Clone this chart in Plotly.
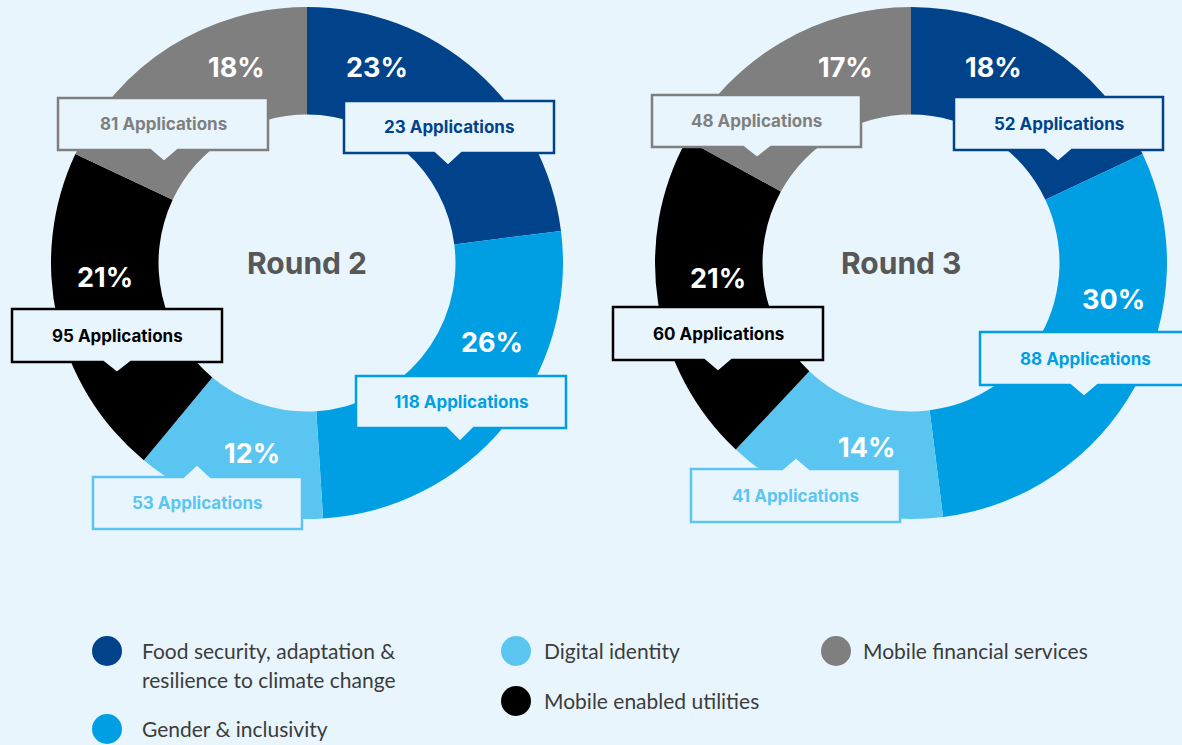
import plotly.graph_objects as go

W, H = 1182, 745
BG = "#E8F5FD"

# ---- data -------------------------------------------------------------
categories = [
    "Food security, adaptation & resilience to climate change",
    "Gender & inclusivity",
    "Digital identity",
    "Mobile enabled utilities",
    "Mobile financial services",
]
colors = ["#00438A", "#009FE3", "#5BC5F2", "#000000", "#7F7F7F"]

round2_share = [23, 26, 12, 21, 18]
round2_apps = [23, 118, 53, 95, 81]

round3_share = [18, 30, 14, 21, 17]
round3_apps = [52, 88, 41, 60, 48]

# ---- layout helpers (pixel positions on the page) ---------------------
FONT_BOLD = "Inter"
FONT_TEXT = "Lato"


def px(x):
    return x / W


def py(y):
    return 1 - y / H


def donut_domain(cx, cy, r):
    return dict(x=[px(cx - r), px(cx + r)], y=[py(cy + r), py(cy - r)])


# per slice: percent label position, callout box (left, top, right, bottom),
# pointer tip (x, y)
round2_layout = [
    dict(pct=(377, 67), box=(344, 101, 554, 153), tip=(448, 166)),
    dict(pct=(492, 343), box=(356, 376, 566, 428), tip=(460, 442)),
    dict(pct=(252, 453), box=(93, 477, 302, 529), tip=(197, 464)),
    dict(pct=(105, 278), box=(12, 309, 222, 362), tip=(117, 373)),
    dict(pct=(236, 67), box=(58, 98, 268, 150), tip=(164, 162)),
]
round3_layout = [
    dict(pct=(993, 67), box=(954, 97, 1163, 150), tip=(1058, 162)),
    dict(pct=(1113, 299), box=(980, 332, 1190, 385), tip=(1084, 397)),
    dict(pct=(866, 447), box=(691, 469, 900, 522), tip=(796, 457)),
    dict(pct=(718, 279), box=(613, 307, 823, 360), tip=(718, 372)),
    dict(pct=(845, 67), box=(652, 95, 861, 147), tip=(757, 158)),
]

fig = go.Figure()

# (title, shares, applications, label layout, donut centre, title centre x)
rounds = [
    ("Round 2", round2_share, round2_apps, round2_layout, (307, 263), 307),
    ("Round 3", round3_share, round3_apps, round3_layout, (911, 263), 901),
]

shapes = []
annotations = []

for title, share, apps, lay, (cx, cy), title_x in rounds:
    fig.add_trace(go.Pie(
        labels=categories,
        values=share,
        marker=dict(colors=colors, line=dict(width=0)),
        hole=0.58,
        sort=False,
        direction="clockwise",
        rotation=0,
        textinfo="none",
        hoverinfo="label+percent",
        showlegend=False,
        domain=donut_domain(cx, cy, 256),
        name=title,
    ))

    annotations.append(dict(
        x=px(title_x), y=py(cy), xref="paper", yref="paper",
        text=f"<b>{title}</b>", showarrow=False,
        font=dict(family=FONT_BOLD, size=30, color="#575757"),
        xanchor="center", yanchor="middle",
    ))

    for i, (s, n, spec) in enumerate(zip(share, apps, lay)):
        col = colors[i]
        annotations.append(dict(
            x=px(spec["pct"][0]), y=py(spec["pct"][1]),
            xref="paper", yref="paper",
            text=f"<b>{s}%</b>", showarrow=False,
            font=dict(family=FONT_BOLD, size=27, color="white"),
            xanchor="center", yanchor="middle",
        ))

        L, T, R, B = spec["box"]
        tx, ty = spec["tip"]
        hw = 14
        if ty > B:  # pointer below the box
            pts = [(L, T), (R, T), (R, B), (tx + hw, B), (tx, ty),
                   (tx - hw, B), (L, B)]
        else:       # pointer above the box
            pts = [(L, T), (tx - hw, T), (tx, ty), (tx + hw, T), (R, T),
                   (R, B), (L, B)]
        path = "M " + " L ".join(f"{px(x):.5f},{py(y):.5f}" for x, y in pts) + " Z"
        shapes.append(dict(
            type="path", path=path, xref="paper", yref="paper",
            fillcolor=BG, line=dict(color=col, width=2.5), layer="above",
        ))
        annotations.append(dict(
            x=px((L + R) / 2), y=py((T + B) / 2),
            xref="paper", yref="paper",
            text=f"<b>{n} Applications</b>", showarrow=False,
            font=dict(family=FONT_BOLD, size=17, color=col),
            xanchor="center", yanchor="middle",
        ))

# ---- legend ------------------------------------------------------------
# (colour index, circle centre, text left edge, text lines)
legend_items = [
    (0, (107, 651), 140, ["Food security, adaptation &", "resilience to climate change"]),
    (1, (107, 729), 140, ["Gender & inclusivity"]),
    (2, (516, 651), 542, ["Digital identity"]),
    (3, (516, 701), 542, ["Mobile enabled utilities"]),
    (4, (836, 651), 861, ["Mobile financial services"]),
]
for idx, (lx, ly), tx, lines in legend_items:
    r = 15
    shapes.append(dict(
        type="circle", xref="paper", yref="paper",
        x0=px(lx - r), x1=px(lx + r), y0=py(ly + r), y1=py(ly - r),
        fillcolor=colors[idx], line=dict(width=0), layer="above",
    ))
    for k, line in enumerate(lines):
        annotations.append(dict(
            x=px(tx), y=py(ly - 1 + 29 * k), xref="paper", yref="paper",
            text=line, showarrow=False, align="left",
            font=dict(family=FONT_TEXT, size=21, color="#3C3C3C"),
            xanchor="left", yanchor="middle",
        ))

fig.update_layout(
    width=W, height=H,
    margin=dict(l=0, r=0, t=0, b=0),
    paper_bgcolor=BG, plot_bgcolor=BG,
    shapes=shapes, annotations=annotations,
)

fig.write_html("out.html")
